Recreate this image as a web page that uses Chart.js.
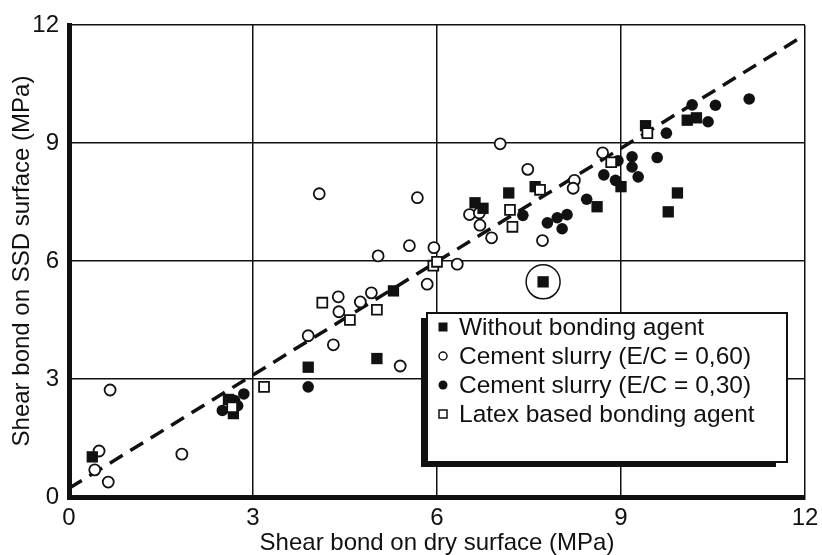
<!DOCTYPE html>
<html>
<head>
<meta charset="utf-8">
<title>Shear bond: SSD vs dry surface</title>
<script src="https://cdn.jsdelivr.net/npm/chart.js@4.4.1/dist/chart.umd.min.js"></script>
<style>
  html, body { margin: 0; padding: 0; background: #fff; }
  #wrap { width: 822px; height: 555px; }
</style>
</head>
<body>
<div id="wrap"><canvas id="bondChart" width="822" height="555"></canvas></div>
<script>
// Shear bond on SSD surface vs dry surface (MPa)

// Axis ticks
const xTicks = [0, 3, 6, 9, 12];
const yTicks = [0, 3, 6, 9, 12];

// Series values, [dry, SSD]
const withoutAgent = [
    [0.38, 1.02], [2.68, 2.12], [2.6, 2.48], [3.9, 3.3], [5.02, 3.52], [5.29, 5.24],
    [7.73, 5.47], [6.62, 7.48], [6.75, 7.34], [7.17, 7.73], [7.6, 7.89], [8.61, 7.38],
    [9.0, 7.89], [9.92, 7.73], [9.77, 7.25], [9.4, 9.44], [10.08, 9.58], [10.23, 9.64]
];
const slurry060 = [
    [0.67, 2.72], [0.49, 1.17], [0.42, 0.69], [0.64, 0.38], [1.84, 1.09], [3.9, 4.1],
    [4.31, 3.87], [5.4, 3.33], [4.4, 4.71], [4.39, 5.09], [4.75, 4.96], [4.93, 5.19],
    [5.04, 6.13], [5.55, 6.39], [5.95, 6.34], [6.33, 5.92], [5.84, 5.41], [4.08, 7.71],
    [5.68, 7.61], [7.03, 8.98], [7.48, 8.33], [6.53, 7.18], [6.69, 7.22], [6.7, 6.91],
    [6.89, 6.59], [7.72, 6.52], [8.24, 8.05], [8.22, 7.85], [8.7, 8.75]
];
const slurry030 = [
    [2.5, 2.2], [2.7, 2.45], [2.85, 2.62], [2.75, 2.32], [3.9, 2.8], [7.4, 7.16],
    [7.8, 6.97], [7.96, 7.1], [8.12, 7.18], [8.04, 6.82], [8.44, 7.57], [8.72, 8.19],
    [8.91, 8.05], [8.95, 8.55], [9.18, 8.65], [9.18, 8.39], [9.28, 8.14], [9.59, 8.63],
    [9.74, 9.25], [10.16, 9.97], [10.42, 9.54], [10.54, 9.96], [11.09, 10.12]
];
const latexAgent = [
    [2.66, 2.28], [3.18, 2.8], [4.13, 4.94], [4.58, 4.5], [5.02, 4.76], [5.94, 5.88],
    [6.0, 5.98], [7.19, 7.3], [7.23, 6.87], [7.68, 7.81], [8.84, 8.51], [9.43, 9.25]
];

// Dashed trend line end points
const trendX = [0, 12];
const trendY = [0.22, 11.75];

// The circled outlier (index into withoutAgent)
const circledIndex = 6;

const legendLabels = [
    'Without bonding agent',
    'Cement slurry (E/C = 0,60)',
    'Cement slurry (E/C = 0,30)',
    'Latex based bonding agent'
];

const INK = '#111';
const FONT = "'Liberation Sans', Arial, Helvetica, sans-serif";

const toPoints = arr => arr.map(p => ({ x: p[0], y: p[1] }));

// Outlier ring
const ringPlugin = {
    id: 'ring',
    afterDatasetsDraw(chart) {
        const el = chart.getDatasetMeta(1).data[circledIndex];
        if (!el) return;
        const ctx = chart.ctx;
        ctx.save();
        ctx.strokeStyle = INK;
        ctx.lineWidth = 1.5;
        ctx.beginPath();
        ctx.arc(el.x, el.y, 17, 0, Math.PI * 2);
        ctx.stroke();
        ctx.restore();
    }
};

// Boxed legend with drop shadow, inside the plot
const boxLegend = {
    id: 'boxLegend',
    afterDraw(chart) {
        const ctx = chart.ctx;
        const area = chart.chartArea;
        const bx = area.left + 358, by = area.top + 288, bw = 360, bh = 149;

        ctx.save();
        // shadow
        ctx.fillStyle = INK;
        ctx.fillRect(bx - 6, by + 5, bw - 5, bh);
        // box
        ctx.fillStyle = '#fff';
        ctx.fillRect(bx, by, bw, bh);
        ctx.strokeStyle = INK;
        ctx.lineWidth = 2;
        ctx.strokeRect(bx, by, bw, bh);

        ctx.font = '24.5px ' + FONT;
        ctx.textBaseline = 'middle';
        ctx.fillStyle = INK;
        const mx = bx + 16, tx = bx + 32;
        legendLabels.forEach((label, i) => {
            const y = by + 14 + i * 29;
            ctx.lineWidth = 1.5;
            ctx.beginPath();
            if (i === 0) {
                ctx.fillRect(mx - 4.5, y - 4.5, 9, 9);
            } else if (i === 1) {
                ctx.arc(mx, y, 4, 0, Math.PI * 2);
                ctx.stroke();
            } else if (i === 2) {
                ctx.arc(mx, y, 4.5, 0, Math.PI * 2);
                ctx.fill();
            } else {
                ctx.strokeRect(mx - 4, y - 4, 8, 8);
            }
            ctx.fillText(label, tx, y + 1);
        });
        ctx.restore();
    }
};

const markerBase = { type: 'scatter', borderColor: INK, borderWidth: 1.8, pointHoverRadius: 6 };

new Chart(document.getElementById('bondChart'), {
    type: 'scatter',
    data: {
        datasets: [
            {
                ...markerBase, label: legendLabels[3], data: toPoints(latexAgent),
                pointStyle: 'rect', pointRadius: 7, backgroundColor: '#fff'
            },
            {
                ...markerBase, label: legendLabels[0], data: toPoints(withoutAgent),
                pointStyle: 'rect', pointRadius: 8, backgroundColor: INK, borderWidth: 0
            },
            {
                ...markerBase, label: legendLabels[2], data: toPoints(slurry030),
                pointStyle: 'circle', pointRadius: 5.8, backgroundColor: INK, borderWidth: 0
            },
            {
                ...markerBase, label: legendLabels[1], data: toPoints(slurry060),
                pointStyle: 'circle', pointRadius: 5.5, backgroundColor: '#fff'
            },
            {
                type: 'line', label: 'trend',
                data: trendX.map((x, i) => ({ x: x, y: trendY[i] })),
                borderColor: INK, borderWidth: 3.5, borderDash: [15, 9],
                pointRadius: 0, fill: false, order: 10
            }
        ]
    },
    options: {
        responsive: false,
        animation: false,
        devicePixelRatio: 1,
        layout: { padding: { top: 25, right: 17, left: 0, bottom: 0 } },
        plugins: {
            legend: { display: false },
            tooltip: { enabled: false }
        },
        scales: {
            x: {
                type: 'linear',
                min: xTicks[0],
                max: xTicks[xTicks.length - 1],
                afterBuildTicks: s => { s.ticks = xTicks.map(v => ({ value: v })); },
                afterFit: s => { s.height = 58; s.paddingLeft = 0; s.paddingRight = 0; },
                ticks: { color: INK, font: { family: FONT, size: 24 }, padding: 7 },
                grid: { color: INK, lineWidth: 1.5, drawTicks: false },
                border: { color: INK, width: 5 },
                title: {
                    display: true,
                    text: 'Shear bond on dry surface (MPa)',
                    color: INK,
                    font: { family: FONT, size: 24, lineHeight: 1 },
                    padding: { top: 0, bottom: 0 }
                }
            },
            y: {
                type: 'linear',
                min: yTicks[0],
                max: yTicks[yTicks.length - 1],
                afterBuildTicks: s => { s.ticks = yTicks.map(v => ({ value: v })); },
                afterFit: s => { s.width = 69; s.paddingTop = 0; s.paddingBottom = 0; },
                ticks: { color: INK, font: { family: FONT, size: 24 }, padding: 10 },
                grid: { color: INK, lineWidth: 1.5, drawTicks: false },
                border: { color: INK, width: 5 },
                title: {
                    display: true,
                    text: 'Shear bond on SSD surface (MPa)',
                    color: INK,
                    font: { family: FONT, size: 24, lineHeight: 1 },
                    padding: { top: 10, bottom: 0 }
                }
            }
        }
    },
    plugins: [ringPlugin, boxLegend]
});
</script>
</body>
</html>
